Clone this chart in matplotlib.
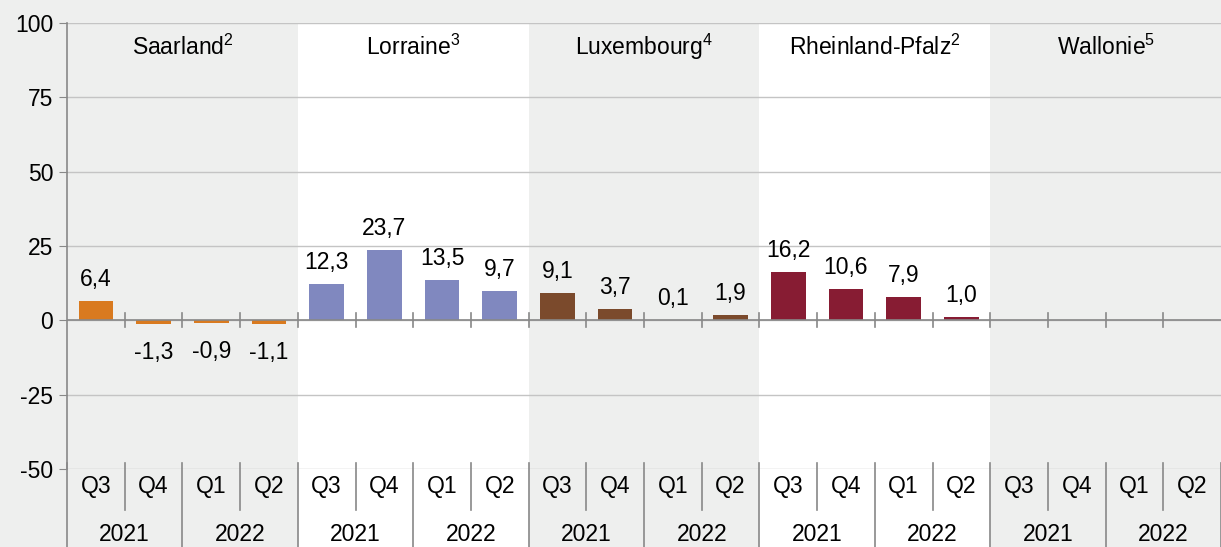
import numpy as np
import matplotlib.pyplot as plt
from matplotlib.patches import Rectangle
import matplotlib.transforms as mtransforms

plt.rcParams['font.family'] = ['Liberation Sans', 'DejaVu Sans']
plt.rcParams['axes.unicode_minus'] = False
plt.rcParams['mathtext.fontset'] = 'custom'
plt.rcParams['mathtext.rm'] = 'Liberation Sans'
plt.rcParams['mathtext.default'] = 'regular'

## data
regions = ['Saarland', 'Lorraine', 'Luxembourg', 'Rheinland-Pfalz', 'Wallonie']
footnotes = ['2', '3', '4', '2', '5']
quarters = ['Q3', 'Q4', 'Q1', 'Q2']
years = ['2021', '2022']
saarland = [6.4, -1.3, -0.9, -1.1]
lorraine = [12.3, 23.7, 13.5, 9.7]
luxembourg = [9.1, 3.7, 0.1, 1.9]
rheinland = [16.2, 10.6, 7.9, 1.0]
wallonie = [None, None, None, None]
series = [saarland, lorraine, luxembourg, rheinland, wallonie]
colors = ['#d97a1f', '#8088bf', '#7b4a2c', '#871c33', '#999999']

bg = '#eeefee'
fs = 16.5

fig = plt.figure(figsize=(12.21, 5.47), dpi=100, facecolor=bg)
ax = fig.add_axes([67/1221, 78/547, 1 - 67/1221, 446/547])
ax.set_facecolor('none')
ax.set_xlim(-0.5, 19.5)
ax.set_ylim(-50, 100)
trans = mtransforms.blended_transform_factory(ax.transData, ax.transAxes)

# white bands behind every second region
for r in range(len(regions)):
    if r % 2 == 1:
        ax.add_patch(Rectangle((r*4 - 0.5, -0.3), 4, 1.3, transform=trans,
                               facecolor='white', edgecolor='none', zorder=0, clip_on=False))
    ax.text(r*4 + 1.5, 0.946, regions[r] + '$^{' + footnotes[r] + '}$', transform=trans,
            ha='center', va='center', fontsize=fs)

# bars + labels
for r, vals in enumerate(series):
    for i, v in enumerate(vals):
        if v is None:
            continue
        x = r*4 + i
        ax.bar(x, v, width=0.6, color=colors[r], zorder=2)
        lab = f'{v:.1f}'.replace('.', ',')
        if v >= 0:
            ax.annotate(lab, (x, v), xytext=(0, 10), textcoords='offset pixels',
                        ha='center', va='bottom', fontsize=fs)
        else:
            ax.annotate(lab, (x, v), xytext=(0, -17), textcoords='offset pixels',
                        ha='center', va='top', fontsize=fs)

# y axis
ax.set_yticks([-50, -25, 0, 25, 50, 75, 100])
ax.yaxis.grid(True, color='#c4c4c4', linewidth=1)
ax.set_axisbelow(True)
ax.tick_params(axis='y', length=6, color='#888888', labelsize=fs, pad=4)
ax.set_xticks([])
for s in ['top', 'right', 'bottom']:
    ax.spines[s].set_visible(False)
ax.spines['left'].set_color('#888888')
ax.spines['left'].set_linewidth(1.2)

# zero line with small ticks at category borders
ax.axhline(0, color='#888888', linewidth=1.2, zorder=3)
for k in range(1, 20):
    ax.plot([k - 0.5, k - 0.5], [-2.3, 2.3], color='#888888', linewidth=1.2, zorder=3)

# two-level category axis below
for k in range(20):
    ax.text(k, -0.04, quarters[k % 4], transform=trans, ha='center', va='center', fontsize=fs)
for k in range(10):
    ax.text(2*k + 0.5, -0.146, years[k % 2], transform=trans, ha='center', va='center', fontsize=fs)
for k in range(21):
    xb = k - 0.5
    ybot = -0.092 if k % 2 == 1 else -0.2
    ax.plot([xb, xb], [0.0135, ybot], transform=trans, color='#888888',
            linewidth=1.2, clip_on=False, zorder=3)

fig.savefig('out.png', dpi=100, facecolor=bg)
